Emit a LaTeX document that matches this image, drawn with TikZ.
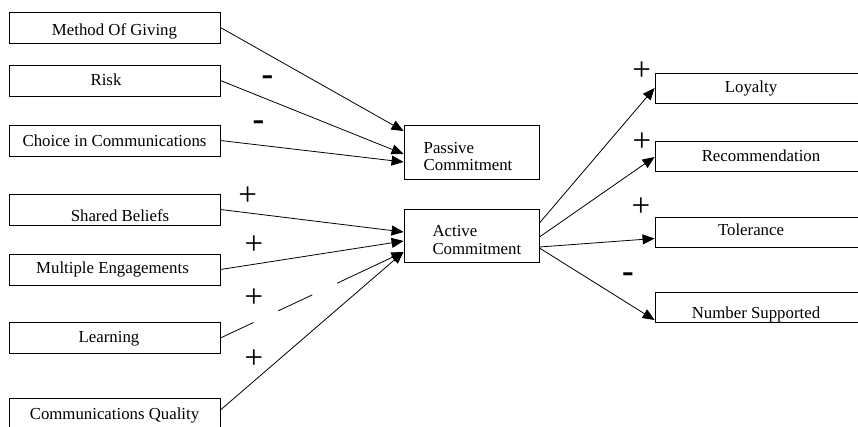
\documentclass[tikz,border=0pt]{standalone}
\usepackage{fontspec}
\setmainfont{Liberation Serif}
\usetikzlibrary{arrows.meta}
\begin{document}
\begin{tikzpicture}[x=1pt,y=-1pt,
  box/.style={draw, line width=0.9pt, inner sep=0pt, font=\fontsize{16.8}{17.5}\selectfont},
  one/.style={box, text depth=0pt, text height=#1},
  lbox/.style={one=#1, minimum width=211pt, minimum height=31pt},
  rbox/.style={one=#1, minimum width=215pt, minimum height=30pt},
  mbox/.style={box, align=left, minimum width=135pt},
  conn/.style={line width=0.8pt, -{Triangle[length=12pt,width=10pt]}},
  plussign/.style={inner sep=0pt, font=\fontsize{33}{33}\selectfont},
  minussign/.style={inner sep=0pt, font=\fontsize{35}{35}\selectfont\bfseries}
]
\useasboundingbox (0,0) rectangle (858,426);

% left boxes
\node[lbox=15.6pt] (mog) at (114.5,27.5) {Method Of Giving};
\node[lbox=9pt] (risk) at (114.5,80.5) {\hspace*{-17pt}Risk};
\node[lbox=12pt] (cic) at (114.5,140.5) {Choice in Communications};
\node[lbox=23.4pt] (sb) at (114.5,209.5) {\hspace*{11pt}Shared Beliefs};
\node[lbox=7.6pt] (me) at (114.5,269.5) {\hspace*{-4pt}Multiple Engagements};
\node[lbox=8.6pt] (lrn) at (114.5,338) {\hspace*{-11pt}Learning};
\node[lbox=11.6pt] (cq) at (114.5,413.5) {Communications Quality};

% middle boxes
\node[mbox, minimum height=54pt] (pas) at (471.5,152)
  {\hspace*{-7pt}\rule{0pt}{20pt}Passive\\\hspace*{-7pt}Commitment};
\node[mbox, minimum height=53pt] (act) at (471.5,235.5)
  {\hspace*{10.7pt}\rule{0pt}{20pt}Active\\\hspace*{10.7pt}Commitment};

% right boxes
\node[rbox=8.6pt] (loy) at (762.5,88) {\hspace*{-23pt}Loyalty};
\node[rbox=11.4pt] (rec) at (762.5,156) {\hspace*{-3pt}Recommendation};
\node[rbox=7.4pt] (tol) at (762.5,232) {\hspace*{-23pt}Tolerance};
\node[rbox=22pt] (num) at (762.5,307) {\hspace*{-13pt}Number Supported};

% connectors to passive
\draw[conn] (mog.east) -- ([yshift=21pt]pas.west);
\draw[conn] (risk.east) -- ([yshift=-2pt]pas.west);
\draw[conn] (cic.east) -- ([yshift=-10pt]pas.west);

% connectors to active
\draw[conn] (sb.east) -- ([yshift=3.5pt]act.west);
\draw[conn] (me.east) -- ([yshift=-5.5pt]act.west);
\draw[conn, dash pattern=on 36.4pt off 27.5pt on 37.5pt off 27.5pt on 400pt] (lrn.east) -- ([yshift=-16.5pt]act.west);
\draw[conn] ([yshift=3.5pt]cq.east) -- ([yshift=-16.5pt]act.west);

% connectors from active
\draw[conn] ([yshift=12.5pt]act.east) -- (loy.west);
\draw[conn] ([yshift=-1.5pt]act.east) -- ([yshift=-1pt]rec.west);
\draw[conn] ([yshift=-11.5pt]act.east) -- ([yshift=-6.5pt]tol.west);
\draw[conn] ([yshift=-12.5pt]act.east) -- ([yshift=-13pt]num.west);

% signs
\node[minussign] (m1) at (267.5,81) {-};
\node[minussign] (m2) at (258.5,126) {-};
\node[plussign] (p1) at (247.7,195.7) {+};
\node[plussign] (p2) at (254,245) {+};
\node[plussign] (p3) at (254,297.7) {+};
\node[plussign] (p4) at (254,359) {+};
\node[plussign] (p5) at (641.7,71) {+};
\node[plussign] (p6) at (642,142.5) {+};
\node[plussign] (p7) at (641,207) {+};
\node[minussign] (m3) at (628,277.5) {-};
\end{tikzpicture}
\end{document}
